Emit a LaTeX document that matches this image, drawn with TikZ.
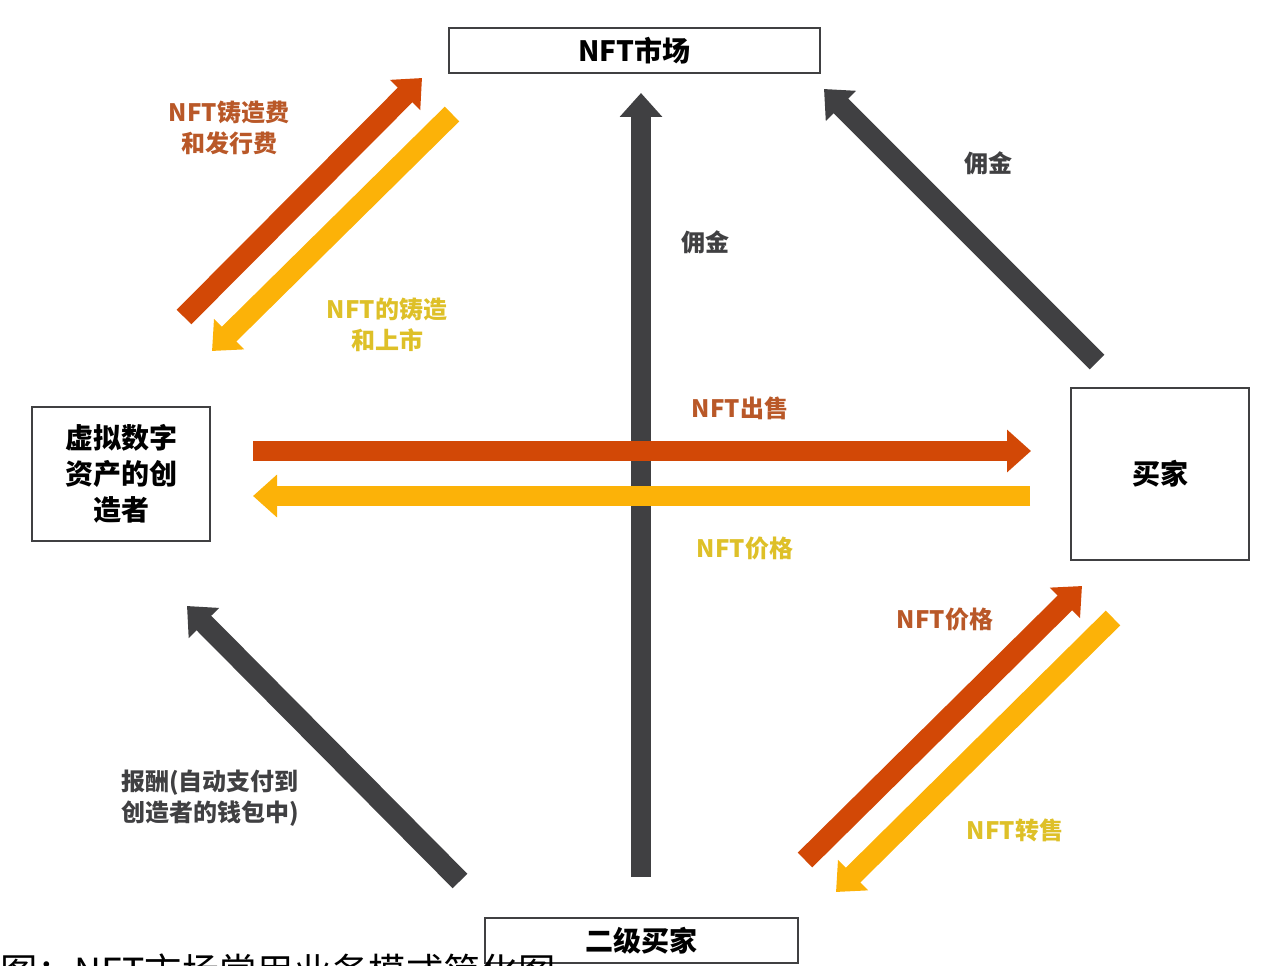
\documentclass[tikz,border=0pt]{standalone}
\usepackage{fontspec}
\setmainfont{Noto Sans CJK SC}
\usepackage{xcolor}
\usetikzlibrary{positioning, arrows.meta}
\definecolor{deeporange}{RGB}{210, 72, 6}
\definecolor{goldyellow}{RGB}{252, 178, 8}
\definecolor{darkgrey}{RGB}{64, 64, 66}
\definecolor{labelorange}{RGB}{185, 88, 40}
\definecolor{labelyellow}{RGB}{222, 192, 40}

\begin{document}
\begin{tikzpicture}[
  x=0.75pt, y=-0.75pt,
  every node/.style={font=\bfseries},
  party/.style={rectangle, draw=darkgrey, line width=1.5pt, fill=white, align=center, font=\bfseries\fontsize{21}{27}\selectfont},
  flow/.style={line width=15.5pt, -{Triangle[length=18pt, width=31pt]}},
  tag/.style={align=center, font=\bfseries\fontsize{18}{23}\selectfont}
]
\useasboundingbox (0,0) rectangle (1283,966);
\clip (0,0) rectangle (1283,966);

\node[party, minimum width=278pt, minimum height=34pt] (market) at (634.5,50.5) {NFT市场};
\node[party, minimum width=133.5pt, minimum height=100.5pt] (creator) at (121,474) {虚拟数字\\资产的创\\造者};
\node[party, minimum width=133.5pt, minimum height=129pt] (buyer) at (1160,474) {买家};

% arrow ends
\coordinate (feeS) at (184,317);
\coordinate (feeE) at (422,78);
\coordinate (mintS) at (452,114);
\coordinate (mintE) at (212,351);
\coordinate (upS) at (641,877);
\coordinate (upE) at (641,93);
\coordinate (sellS) at (253,451);
\coordinate (sellE) at (1031,451);
\coordinate (priceS) at (1030,496);
\coordinate (priceE) at (253,496);
\coordinate (commS) at (1097,362);
\coordinate (commE) at (824,89);
\coordinate (payS) at (460,881);
\coordinate (payE) at (187,606);
\coordinate (resaleS) at (805,860);
\coordinate (resaleE) at (1082,586);
\coordinate (backS) at (1113,618);
\coordinate (backE) at (836,892);

\draw[flow, darkgrey] (upS) -- (upE);
\draw[flow, deeporange] (sellS) -- (sellE);
\draw[flow, goldyellow] (priceS) -- (priceE);
\draw[flow, deeporange] (feeS) -- (feeE);
\draw[flow, goldyellow] (mintS) -- (mintE);
\draw[flow, darkgrey] (commS) -- (commE);
\draw[flow, darkgrey] (payS) -- (payE);
\draw[flow, deeporange] (resaleS) -- (resaleE);
\draw[flow, goldyellow] (backS) -- (backE);

\node[tag, labelorange] (feeL) at (229,128) {NFT铸造费\\和发行费};
\node[tag, labelyellow] (mintL) at (387,325) {NFT的铸造\\和上市};
\node[tag, darkgrey] (upL) at (705,242) {佣金};
\node[tag, darkgrey] (commL) at (988,163) {佣金};
\node[tag, labelorange] (sellL) at (740,408) {NFT出售};
\node[tag, labelyellow] (priceL) at (745,548) {NFT价格};
\node[tag, labelorange] (resaleL) at (945,619) {NFT价格};
\node[tag, labelyellow] (backL) at (1015,830) {NFT转售};
\node[tag, darkgrey] (payL) at (210,798) {报酬(自动支付到\\创造者的钱包中)};

\node[party, minimum width=235pt, minimum height=34pt] (second) at (641.5,940.5) {二级买家};
\node[anchor=base west, inner sep=0pt, font=\fontsize{28}{34}\selectfont] (caption) at (0,985) {图：NFT市场常用业务模式简化图};
\end{tikzpicture}
\end{document}
